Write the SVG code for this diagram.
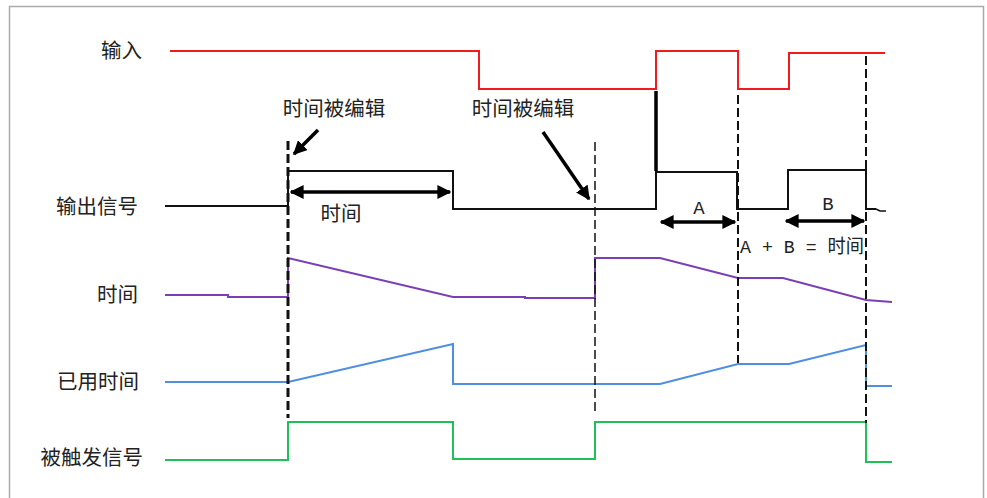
<svg xmlns="http://www.w3.org/2000/svg" width="987" height="498" viewBox="0 0 987 498">
<defs>
<style>
.lbl{font-family:"Noto Sans CJK SC","Liberation Sans",sans-serif;font-size:20.5px;fill:#222}
.mono{font-family:"Liberation Mono","Noto Sans CJK SC",monospace;font-size:19px;fill:#222}
.sig{fill:none;stroke-width:2;stroke-linejoin:miter}
.dash{fill:none;stroke:#111;stroke-dasharray:9,4}
.arr{fill:none;stroke:#000;stroke-width:3.5}
</style>
<marker id="ah" viewBox="0 0 10 10" refX="9" refY="5" markerWidth="4" markerHeight="4" orient="auto-start-reverse" markerUnits="strokeWidth">
<path d="M0,0 L10,5 L0,10 Z" fill="#000"/>
</marker>
</defs>
<rect x="0" y="0" width="987" height="498" fill="#fff"/>
<path d="M9.5,500 V6.5 H983.5 V500" fill="none" stroke="#aaa" stroke-width="1.5"/>

<g id="labels">
<text class="lbl" x="142" y="58" text-anchor="end">输入</text>
<text class="lbl" x="138" y="214" text-anchor="end">输出信号</text>
<text class="lbl" x="138" y="302" text-anchor="end">时间</text>
<text class="lbl" x="139" y="389" text-anchor="end">已用时间</text>
<text class="lbl" x="143" y="465" text-anchor="end">被触发信号</text>
</g>

<g id="input">
<polyline class="sig" stroke="#ee1c1c" points="170,51 479,51 479,89 656,89 656,51 738,51 738,89 789,89 789,53 885,53"/>
</g>

<g id="output">
<polyline class="sig" stroke="#111" points="165,206 288,206 288,171 453,171 453,209 656,209 656,172 737,172 737,209 788,209 788,170 866,170 866,209 876,209"/>
<path d="M876,209 L880,211 H886" fill="none" stroke="#111" stroke-width="1.5"/>
<line x1="656" y1="91" x2="656" y2="171" stroke="#000" stroke-width="3.5"/>
</g>

<g id="time">
<polyline class="sig" stroke="#7b3fb5" points="165,295 228,295 228,297 288,297 288,258 453,297 525,297 525,298 595,298 595,258 660,258 738,278 783,278 866,300 892,302"/>
</g>

<g id="elapsed">
<polyline class="sig" stroke="#4f8fe0" points="165,382 288,382 453,344 453,384 660,384 738,364 789,364 866,345 866,386 892,386"/>
</g>

<g id="triggered">
<polyline class="sig" stroke="#1fbf5a" points="165,460 288,460 288,422 453,422 453,459 595,459 595,422 866,422 866,462 892,462"/>
</g>

<g id="connectors">
<line class="dash" x1="288" y1="141" x2="288" y2="418" stroke-width="3"/>
<line class="dash" x1="595" y1="142" x2="595" y2="415" stroke-width="1.5"/>
<line class="dash" x1="738" y1="95" x2="738" y2="363" stroke-width="2"/>
<line class="dash" x1="866" y1="56" x2="866" y2="423" stroke-width="2"/>
<line class="arr" x1="318" y1="130" x2="294" y2="154" marker-end="url(#ah)"/>
<line class="arr" x1="543" y1="132" x2="589" y2="199" marker-end="url(#ah)"/>
<line class="arr" x1="291" y1="192" x2="450" y2="192" marker-start="url(#ah)" marker-end="url(#ah)"/>
<line class="arr" x1="661" y1="222" x2="735" y2="222" marker-start="url(#ah)" marker-end="url(#ah)"/>
<line class="arr" x1="786" y1="221" x2="864" y2="221" marker-start="url(#ah)" marker-end="url(#ah)"/>
</g>

<g id="annotations">
<text class="lbl" x="334" y="116" text-anchor="middle">时间被编辑</text>
<text class="lbl" x="523" y="116" text-anchor="middle">时间被编辑</text>
<text class="lbl" x="341" y="221" text-anchor="middle">时间</text>
<text class="mono" x="699" y="214" text-anchor="middle">A</text>
<text class="mono" x="828" y="210" text-anchor="middle">B</text>
<text class="mono" x="740" y="253" textLength="124" lengthAdjust="spacingAndGlyphs">A + B = 时间</text>
</g>
</svg>
